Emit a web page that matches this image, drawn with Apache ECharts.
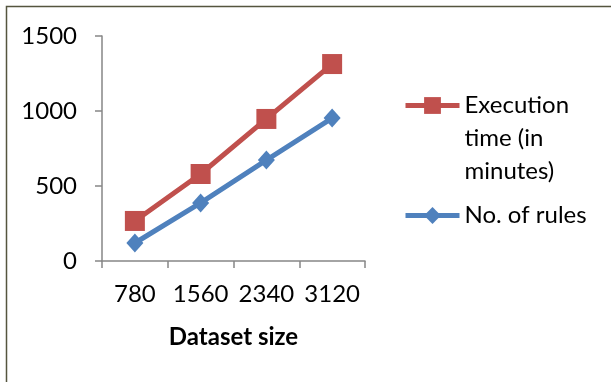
<!DOCTYPE html>
<html>
<head>
<meta charset="utf-8">
<script src="https://cdn.jsdelivr.net/npm/echarts@6/dist/echarts.min.js"></script>
<style>
html,body{margin:0;padding:0;background:#fff;}
#chart{width:611px;height:382px;}
</style>
</head>
<body>
<div id="chart"></div>
<script>
const categories = ['780', '1560', '2340', '3120'];
const executionTime = [267, 580, 947, 1313];
const numRules = [120, 387, 673, 953];
const seriesNames = ['Execution time (in minutes)', 'No. of rules'];
const xAxisName = 'Dataset size';

const FONT = 'Lato';
const chart = echarts.init(document.getElementById('chart'), null, {renderer: 'canvas'});
chart.setOption({
  animation: false,
  backgroundColor: '#fff',
  graphic: [{
    type: 'rect',
    shape: {x: 6.5, y: 6.5, width: 800, height: 600},
    style: {fill: 'none', stroke: '#55553f', lineWidth: 1.5},
    silent: true
  }],
  grid: {left: 102, right: 246, top: 36, bottom: 121},
  legend: {
    orient: 'vertical',
    left: 403,
    top: 23,
    padding: 0,
    itemWidth: 54,
    itemHeight: 21,
    itemGap: 11,
    lineStyle: {width: 5},
    textStyle: {fontFamily: FONT, fontSize: 24, lineHeight: 33, color: '#000'},
    data: seriesNames,
    formatter: function (n) {
      return n === seriesNames[0] ? '\n\nExecution\ntime (in\nminutes)' : n;
    }
  },
  xAxis: {
    type: 'category',
    data: categories,
    boundaryGap: true,
    name: xAxisName,
    nameLocation: 'middle',
    nameGap: 64,
    nameTextStyle: {fontFamily: FONT, fontSize: 24, fontWeight: 'bold', color: '#000'},
    axisLine: {lineStyle: {color: '#868686', width: 1.5}},
    axisTick: {show: true, alignWithLabel: false, interval: 0, length: 7, lineStyle: {color: '#868686', width: 1.5}},
    axisLabel: {fontFamily: FONT, fontSize: 24, color: '#000', margin: 21, interval: 0}
  },
  yAxis: {
    type: 'value',
    min: 0,
    max: 1500,
    interval: 500,
    splitLine: {show: false},
    axisLine: {show: true, lineStyle: {color: '#868686', width: 1.5}},
    axisTick: {show: true, length: 7, lineStyle: {color: '#868686', width: 1.5}},
    axisLabel: {fontFamily: FONT, fontSize: 24, color: '#000', margin: 25, formatter: function (v) { return String(v); }}
  },
  series: [
    {
      name: seriesNames[0],
      type: 'line',
      data: executionTime,
      symbol: 'rect',
      symbolSize: 20,
      color: '#C0504D',
      lineStyle: {width: 5, color: '#C0504D'},
      itemStyle: {color: '#C0504D'}
    },
    {
      name: seriesNames[1],
      type: 'line',
      data: numRules,
      symbol: 'diamond',
      symbolSize: [17, 19],
      color: '#4F81BD',
      lineStyle: {width: 5, color: '#4F81BD'},
      itemStyle: {color: '#4F81BD'}
    }
  ]
});
</script>
</body>
</html>
